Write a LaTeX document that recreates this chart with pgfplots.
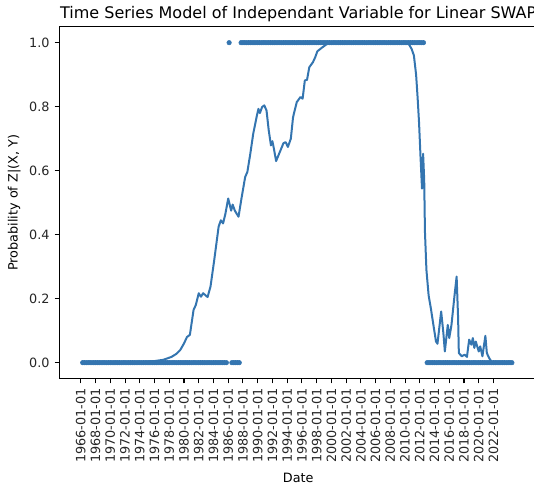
\documentclass[border=0pt]{standalone}
\usepackage{pgfplots}
\pgfplotsset{compat=1.18}
\usepackage{pgfplotstable}
\usepackage{fontspec}
\setmainfont{DejaVu Sans}
\definecolor{sb}{RGB}{52,117,176}

\pgfplotstableread[row sep=\\]{
x y\\
1966.25 0\\1966.5 0\\1966.75 0\\
1967 0\\1967.25 0\\1967.5 0\\1967.75 0\\
1968 0\\1968.25 0\\1968.5 0\\1968.75 0\\
1969 0\\1969.25 0\\1969.5 0\\1969.75 0\\
1970 0\\1970.25 0\\1970.5 0\\1970.75 0\\
1971 0\\1971.25 0\\1971.5 0\\1971.75 0\\
1972 0\\1972.25 0\\1972.5 0\\1972.75 0\\
1973 0\\1973.25 0\\1973.5 0\\1973.75 0\\
1974 0\\1974.25 0\\1974.5 0\\1974.75 0\\
1975 0\\1975.25 0\\1975.5 0\\1975.75 0\\
1976 0\\1976.25 0\\1976.5 0\\1976.75 0\\
1977 0\\1977.25 0\\1977.5 0\\1977.75 0\\
1978 0\\1978.25 0\\1978.5 0\\1978.75 0\\
1979 0\\1979.25 0\\1979.5 0\\1979.75 0\\
1980 0\\1980.25 0\\1980.5 0\\1980.75 0\\
1981 0\\1981.25 0\\1981.5 0\\1981.75 0\\
1982 0\\1982.25 0\\1982.5 0\\1982.75 0\\
1983 0\\1983.25 0\\1983.5 0\\1983.75 0\\
1984 0\\1984.25 0\\1984.5 0\\1984.75 0\\
1985 0\\1985.25 0\\1985.5 0\\1985.75 0\\
1986.125 1\\
1986.5 0\\1986.75 0\\1987 0\\1987.25 0\\1987.5 0\\
1987.75 1\\
1988 1\\1988.25 1\\1988.5 1\\1988.75 1\\
1989 1\\1989.25 1\\1989.5 1\\1989.75 1\\
1990 1\\1990.25 1\\1990.5 1\\1990.75 1\\
1991 1\\1991.25 1\\1991.5 1\\1991.75 1\\
1992 1\\1992.25 1\\1992.5 1\\1992.75 1\\
1993 1\\1993.25 1\\1993.5 1\\1993.75 1\\
1994 1\\1994.25 1\\1994.5 1\\1994.75 1\\
1995 1\\1995.25 1\\1995.5 1\\1995.75 1\\
1996 1\\1996.25 1\\1996.5 1\\1996.75 1\\
1997 1\\1997.25 1\\1997.5 1\\1997.75 1\\
1998 1\\1998.25 1\\1998.5 1\\1998.75 1\\
1999 1\\1999.25 1\\1999.5 1\\1999.75 1\\
2000 1\\2000.25 1\\2000.5 1\\2000.75 1\\
2001 1\\2001.25 1\\2001.5 1\\2001.75 1\\
2002 1\\2002.25 1\\2002.5 1\\2002.75 1\\
2003 1\\2003.25 1\\2003.5 1\\2003.75 1\\
2004 1\\2004.25 1\\2004.5 1\\2004.75 1\\
2005 1\\2005.25 1\\2005.5 1\\2005.75 1\\
2006 1\\2006.25 1\\2006.5 1\\2006.75 1\\
2007 1\\2007.25 1\\2007.5 1\\2007.75 1\\
2008 1\\2008.25 1\\2008.5 1\\2008.75 1\\
2009 1\\2009.25 1\\2009.5 1\\2009.75 1\\
2010 1\\2010.25 1\\2010.5 1\\2010.75 1\\
2011 1\\2011.25 1\\2011.5 1\\2011.75 1\\
2012 1\\2012.25 1\\2012.5 1\\
2013 0\\2013.25 0\\2013.5 0\\2013.75 0\\
2014 0\\2014.25 0\\2014.5 0\\2014.75 0\\
2015 0\\2015.25 0\\2015.5 0\\2015.75 0\\
2016 0\\2016.25 0\\2016.5 0\\2016.75 0\\
2017 0\\2017.25 0\\2017.5 0\\2017.75 0\\
2018 0\\2018.25 0\\2018.5 0\\2018.75 0\\
2019 0\\2019.25 0\\2019.5 0\\2019.75 0\\
2020 0\\2020.25 0\\2020.5 0\\2020.75 0\\
2021 0\\2021.25 0\\2021.5 0\\2021.75 0\\
2022 0\\2022.25 0\\2022.5 0\\2022.75 0\\
2023 0\\2023.25 0\\2023.5 0\\2023.75 0\\
2024 0\\2024.25 0\\2024.5 0\\
}\actual

\pgfplotstableread[row sep=\\]{
x y\\
1966.25 0\\ 1968 0\\ 1970 0\\ 1972 0.001\\ 1974 0.002\\ 1975 0.003\\
1976 0.005\\ 1977.2 0.009\\ 1978.3 0.018\\ 1979.0 0.028\\ 1979.5 0.04\\
1980.0 0.06\\ 1980.4 0.08\\ 1980.8 0.087\\ 1981.3 0.165\\ 1981.6 0.18\\
1982.0 0.217\\ 1982.3 0.206\\ 1982.6 0.217\\ 1983.2 0.205\\ 1983.6 0.238\\
1984.1 0.32\\ 1984.7 0.425\\ 1985.0 0.445\\ 1985.3 0.435\\ 1985.6 0.463\\
1986.0 0.513\\ 1986.4 0.475\\ 1986.6 0.494\\ 1986.9 0.475\\ 1987.4 0.456\\
1987.8 0.513\\ 1988.3 0.58\\ 1988.6 0.596\\ 1989.0 0.653\\ 1989.4 0.716\\
1989.9 0.773\\ 1990.1 0.793\\ 1990.3 0.78\\ 1990.6 0.799\\ 1990.9 0.804\\
1991.2 0.788\\ 1991.5 0.726\\ 1991.8 0.679\\ 1992.0 0.692\\ 1992.2 0.669\\
1992.5 0.63\\ 1993.0 0.658\\ 1993.5 0.686\\ 1993.8 0.689\\ 1994.1 0.674\\
1994.5 0.7\\ 1994.8 0.767\\ 1995.3 0.814\\ 1995.8 0.83\\ 1996.1 0.825\\
1996.4 0.882\\ 1996.7 0.884\\ 1997.0 0.923\\ 1997.5 0.939\\ 1997.8 0.954\\
1998.1 0.973\\ 1998.7 0.984\\ 1999.4 0.996\\ 1999.8 1.0\\ 2005 1.0\\
2010.4 1.0\\ 2010.9 0.98\\ 2011.2 0.96\\ 2011.5 0.9\\ 2011.7 0.83\\
2011.9 0.75\\ 2012.1 0.643\\ 2012.3 0.544\\ 2012.45 0.653\\ 2012.6 0.57\\
2012.7 0.41\\ 2012.9 0.29\\ 2013.2 0.21\\ 2013.5 0.17\\ 2013.9 0.11\\
2014.2 0.066\\ 2014.4 0.059\\ 2014.9 0.16\\ 2015.2 0.093\\ 2015.4 0.035\\
2015.8 0.118\\ 2016.0 0.077\\ 2016.3 0.118\\ 2016.7 0.207\\ 2017.0 0.269\\
2017.2 0.139\\ 2017.3 0.03\\ 2017.7 0.02\\ 2018.1 0.025\\ 2018.4 0.018\\
2018.7 0.072\\ 2019.0 0.056\\ 2019.2 0.077\\ 2019.4 0.046\\ 2019.6 0.066\\
2020.0 0.035\\ 2020.2 0.051\\ 2020.5 0.02\\ 2020.9 0.084\\ 2021.1 0.03\\
2021.4 0.015\\ 2021.7 0.004\\
}\prob

\begin{document}
\begin{tikzpicture}
\begin{axis}[
  at={(0,0)}, anchor=south west,
  scale only axis, width=358.1pt, height=264pt,
  xmin=1963.1, xmax=2027.9, ymin=-0.05, ymax=1.05,
  axis line style={black, line width=0.8pt},
  tick align=outside, major tick length=3.6pt,
  tick style={black, line width=0.8pt},
  xtick pos=bottom, ytick pos=left,
  xtick={1966,1968,...,2022},
  xticklabels={1966-01-01,1968-01-01,1970-01-01,1972-01-01,1974-01-01,1976-01-01,1978-01-01,1980-01-01,1982-01-01,1984-01-01,1986-01-01,1988-01-01,1990-01-01,1992-01-01,1994-01-01,1996-01-01,1998-01-01,2000-01-01,2002-01-01,2004-01-01,2006-01-01,2008-01-01,2010-01-01,2012-01-01,2014-01-01,2016-01-01,2018-01-01,2020-01-01,2022-01-01},
  ytick={0,0.2,0.4,0.6,0.8,1.0},
  yticklabels={0.0,0.2,0.4,0.6,0.8,1.0},
  /pgf/number format/assume math mode=true,
  ticklabel style={font=\fontsize{9.6}{11}\selectfont, text=black!85},
  xticklabel style={rotate=90, anchor=east, inner sep=0pt},
  yticklabel style={inner sep=0pt},
  xticklabel shift=3.6pt, yticklabel shift=3.6pt,
  every axis title shift=0pt,
  title={Time Series Model of Independant Variable for Linear SWAP},
  title style={font=\fontsize{12}{14}\selectfont, at={(axis description cs:0.5,1)}, anchor=base, yshift=6.3pt, inner sep=0pt},
  xlabel={Date},
  xlabel style={font=\fontsize{9.6}{11}\selectfont, at={(axis description cs:0.5,0)}, anchor=base, yshift=-78.2pt, inner sep=0pt},
  ylabel={Probability of Z|(X, Y)},
  ylabel style={font=\fontsize{9.6}{11}\selectfont, at={(axis description cs:-0.0949,0.5)}, anchor=center, inner sep=0pt},
]
\addplot[only marks, mark=*, mark size=1.7pt, color=sb, mark options={draw=none, fill=sb}] table[x=x, y=y] {\actual};
\addplot[sb, line width=1.5pt, line join=round, no marks] table[x=x, y=y] {\prob};
\end{axis}
\pgfresetboundingbox
\path[use as bounding box] (-44.6pt,-81.4pt) rectangle (355.9pt,284pt);
\end{tikzpicture}
\end{document}
